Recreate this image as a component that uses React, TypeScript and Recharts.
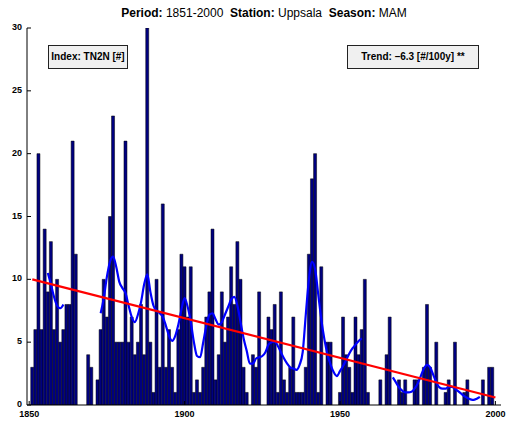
import React from "react";
import { ComposedChart, Bar, Line, XAxis, YAxis } from "recharts";

// yearly counts, 1851..2000
const firstYear = 1851;
const counts = [
  3, 6, 20, 6, 14, 9, 13, 6, 10, 5, 6, 8, 8, 21, 12, 0, 0, 0, 4, 3,
  0, 2, 6, 10, 7, 15, 23, 5, 5, 5, 21, 5, 7, 4, 5, 8, 4, 30, 5, 1,
  10, 3, 16, 3, 6, 3, 1, 6, 12, 11, 7, 11, 1, 2, 1, 3, 7, 9, 14, 2,
  4, 9, 5, 7, 11, 8, 13, 10, 3, 1, 0, 4, 3, 9, 0, 0, 7, 6, 8, 1,
  9, 2, 1, 3, 7, 1, 1, 1, 3, 12, 18, 20, 1, 11, 0, 5, 5, 0, 0, 1,
  7, 4, 3, 1, 7, 4, 6, 10, 1, 0, 0, 0, 2, 0, 4, 7, 0, 0, 2, 1,
  2, 0, 0, 2, 2, 0, 3, 8, 3, 0, 5, 0, 0, 1, 2, 0, 5, 0, 0, 1,
  2, 0, 0, 0, 0, 2, 0, 3, 3, 0,
];

const smoothA = [10.5, 9.6, 8.6, 7.9, 7.7, 8.0]; // from 1856
const smoothB = [
  7.3, 8.5, 10.2, 11.4, 11.8, 11.0, 9.8, 9.3, 8.9, 7.9,
  7.0, 6.6, 7.2, 8.2, 9.6, 10.4, 9.0, 7.9, 7.5, 7.3,
  7.0, 6.3, 5.5, 5.1, 5.5, 6.4, 7.6, 8.5, 7.8, 6.6,
  5.0, 3.9, 3.8, 5.0, 6.3, 7.2, 7.3, 6.8, 6.4, 6.6,
  7.2, 7.8, 8.4, 8.6, 7.9, 6.6, 5.3, 4.3, 3.3, 3.3,
  3.7, 3.8, 3.9, 4.2, 4.8, 5.0, 5.05, 4.7, 4.2, 3.7,
  3.3, 3.0, 2.9, 2.8, 3.2, 4.2, 7.2, 10.0, 11.4, 10.8,
  8.8, 6.8, 5.2, 4.0, 3.2, 2.6, 2.3, 2.7, 3.1, 3.6,
  4.1, 4.5, 4.8, 5.1, 5.3,
]; // from 1873
const smoothC = [
  2.2, 1.8, 1.4, 1.15, 1.0, 1.0, 1.05, 1.3, 1.7, 2.3,
  2.9, 3.2, 3.0, 2.4, 1.8, 1.4, 1.3, 1.3, 1.45, 1.45,
  1.3, 1.1, 0.9, 0.7, 0.55, 0.45, 0.4, 0.5, 0.65,
]; // from 1967
const smoothParts = [
  { start: 1856, values: smoothA },
  { start: 1873, values: smoothB },
  { start: 1967, values: smoothC },
];

const trendYears = [1851, 2000];
const trendValues = [10.0, 0.6];

const xTicks = [1850, 1900, 1950, 2000];
const yTicks = [0, 5, 10, 15, 20, 25, 30];

const rows = counts.map((c, i) => {
  const year = firstYear + i;
  let smooth: number | null = null;
  for (const p of smoothParts) {
    const k = year - p.start;
    if (k >= 0 && k < p.values.length) smooth = p.values[k];
  }
  const t = trendYears.indexOf(year);
  return { year, count: c, smooth, trend: t >= 0 ? trendValues[t] : null };
});

const font = "'Liberation Sans', Arial, Helvetica, sans-serif";
const TL = 4;

const LeftTick = (p: any) => (
  <g>
    <line x1={p.x + 5} x2={p.x + 5 + TL} y1={p.y} y2={p.y} stroke="#000" />
    <text x={p.x} y={p.y - 1} dy="0.35em" textAnchor="end" fontSize={9} fontWeight="bold" fontFamily={font} fill="#000">
      {p.payload.value}
    </text>
  </g>
);

const BottomTick = (p: any) => (
  <g>
    <line x1={p.x} x2={p.x} y1={p.y - 6} y2={p.y - 6 - TL} stroke="#000" />
    <text x={p.x} y={p.y} dy="0.71em" textAnchor="middle" fontSize={9} fontWeight="bold" fontFamily={font} fill="#000">
      {p.payload.value}
    </text>
  </g>
);

const TopTick = (p: any) => <line x1={p.x} x2={p.x} y1={p.y} y2={p.y + TL} stroke="#000" />;
const RightTick = (p: any) => <line x1={p.x} x2={p.x - TL} y1={p.y} y2={p.y} stroke="#000" />;

const boxStyle: React.CSSProperties = {
  position: "absolute",
  top: 45,
  height: 22,
  background: "#f0f0f0",
  border: "1px solid #222",
  fontFamily: font,
  fontSize: 10,
  fontWeight: "bold",
  lineHeight: "22px",
  textAlign: "center",
  color: "#000",
  whiteSpace: "nowrap",
};

export default function App() {
  return (
    <div style={{ position: "absolute", left: 0, top: 0, width: 508, height: 425, background: "#fff" }}>
      <div
        style={{
          position: "absolute",
          top: 5,
          left: 0,
          width: 528,
          textAlign: "center",
          fontFamily: font,
          fontSize: 12,
          lineHeight: "16px",
          color: "#000",
          whiteSpace: "pre",
        }}
      >
        <b>Period:</b> 1851-2000  <b>Station:</b> Uppsala  <b>Season:</b> MAM
      </div>
      <ComposedChart width={508} height={425} data={rows} margin={{ top: 28, right: 7, left: 0, bottom: 0 }}>
        <XAxis
          xAxisId="b"
          dataKey="year"
          type="number"
          domain={[1849.3, 2001.8]}
          allowDataOverflow
          ticks={xTicks}
          interval={0}
          height={20}
          tickSize={0}
          tickMargin={6}
          tick={<BottomTick />}
          axisLine={{ stroke: "#000" }}
        />
        <XAxis
          xAxisId="t"
          orientation="top"
          dataKey="year"
          type="number"
          domain={[1849.3, 2001.8]}
          allowDataOverflow
          ticks={xTicks}
          interval={0}
          height={0}
          tickSize={0}
          tickMargin={0}
          tick={<TopTick />}
          axisLine={{ stroke: "#000" }}
        />
        <YAxis
          yAxisId="l"
          domain={[0, 30]}
          allowDataOverflow
          ticks={yTicks}
          interval={0}
          width={27}
          tickSize={0}
          tickMargin={5}
          tick={<LeftTick />}
          axisLine={{ stroke: "#000" }}
        />
        <YAxis
          yAxisId="r"
          orientation="right"
          domain={[0, 30]}
          allowDataOverflow
          ticks={yTicks}
          interval={0}
          width={0}
          tickSize={0}
          tickMargin={0}
          tick={<RightTick />}
          axisLine={{ stroke: "#000" }}
        />
        <Bar
          xAxisId="b"
          yAxisId="l"
          dataKey="count"
          barSize={3}
          fill="#000080"
          stroke="#000"
          strokeWidth={0.5}
          isAnimationActive={false}
        />
        <Line
          xAxisId="b"
          yAxisId="l"
          dataKey="smooth"
          type="monotone"
          stroke="#0000ff"
          strokeWidth={2.2}
          dot={false}
          isAnimationActive={false}
        />
        <Line
          xAxisId="b"
          yAxisId="l"
          dataKey="trend"
          type="linear"
          stroke="#ff0000"
          strokeWidth={2.2}
          dot={false}
          connectNulls
          isAnimationActive={false}
        />
      </ComposedChart>
      <div style={{ ...boxStyle, left: 48, width: 78 }}>Index: TN2N [#]</div>
      <div style={{ ...boxStyle, left: 347, width: 130 }}>Trend: –6.3 [#/100y] **</div>
    </div>
  );
}
